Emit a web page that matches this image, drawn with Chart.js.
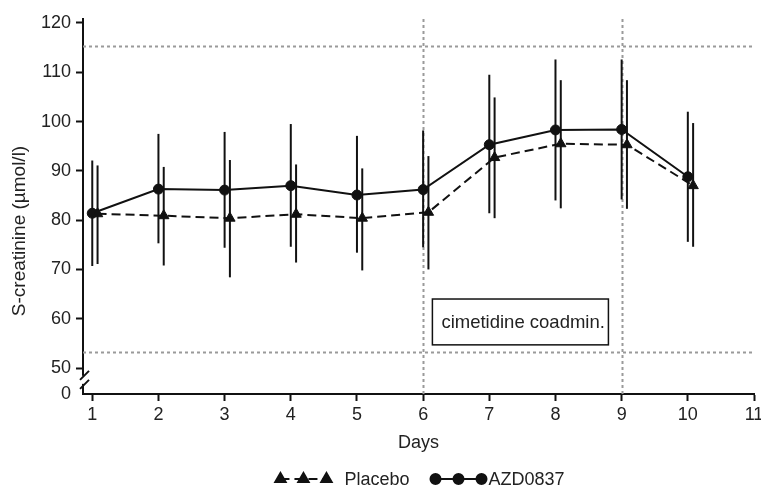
<!DOCTYPE html>
<html>
<head>
<meta charset="utf-8">
<script src="https://cdn.jsdelivr.net/npm/chart.js@4.4.1/dist/chart.umd.min.js"></script>
<style>
  html, body { margin: 0; padding: 0; background: #fff; }
</style>
</head>
<body>
<canvas id="chart" width="761" height="487"></canvas>
<script>
// Study days and S-creatinine readings (mean with range bars)
const days = [1, 2, 3, 4, 5, 6, 7, 8, 9, 10];

const azdMean = [81.4, 86.3, 86.1, 87.0, 85.1, 86.2, 95.3, 98.3, 98.4, 88.8];
const azdLow = [70.7, 75.3, 74.4, 74.6, 73.4, 74.5, 81.4, 84.0, 84.2, 75.6];
const azdHigh = [92.1, 97.5, 97.9, 99.5, 97.1, 98.2, 109.5, 112.6, 112.6, 102.0];

const placeboMean = [81.3, 80.9, 80.4, 81.2, 80.4, 81.6, 92.7, 95.5, 95.3, 87.0];
const placeboLow = [71.1, 70.8, 68.4, 71.4, 69.8, 70.0, 80.4, 82.4, 82.3, 74.6];
const placeboHigh = [91.1, 90.8, 92.2, 91.3, 90.5, 93.0, 104.9, 108.4, 108.4, 99.7];

const dayTicks = [1, 2, 3, 4, 5, 6, 7, 8, 9, 10, 11];
const valueTicks = [50, 60, 70, 80, 90, 100, 110, 120];

// Reference range and cimetidine period
const normalRange = [53.2, 115.3];
const periodMarks = [6, 9];
const noteText = 'cimetidine coadmin.';

// The axis is broken below 50; the "0" label sits at this scale value
const AXIS_ZERO = 44.73;
const PLACEBO_SHIFT = 0.08;
const INK = '#111';
const GREY = '#9a9a9a';
const FONT = '"Liberation Sans", Arial, Helvetica, sans-serif';

const toPoints = (xs, ys, shift = 0) => xs.map((d, i) => ({ x: d + shift, y: ys[i] }));

// Vertical range bars behind the markers
const errorBars = {
    id: 'errorBars',
    beforeDatasetsDraw(chart) {
        const { ctx, scales: { y } } = chart;
        ctx.save();
        ctx.strokeStyle = INK;
        ctx.lineWidth = 2;
        chart.data.datasets.forEach((ds, di) => {
            const meta = chart.getDatasetMeta(di);
            meta.data.forEach((pt, i) => {
                ctx.beginPath();
                ctx.moveTo(pt.x, y.getPixelForValue(ds.errLow[i]));
                ctx.lineTo(pt.x, y.getPixelForValue(ds.errHigh[i]));
                ctx.stroke();
            });
        });
        ctx.restore();
    }
};

// Dotted reference lines and the annotation box
const refLines = {
    id: 'refLines',
    beforeDatasetsDraw(chart) {
        const { ctx, chartArea: a, scales: { x, y } } = chart;
        ctx.save();
        ctx.strokeStyle = GREY;
        ctx.lineWidth = 2;
        ctx.setLineDash([3, 3]);
        normalRange.forEach(v => {
            const py = Math.round(y.getPixelForValue(v)) + 0.5;
            ctx.beginPath();
            ctx.moveTo(a.left, py);
            ctx.lineTo(a.right, py);
            ctx.stroke();
        });
        periodMarks.forEach(d => {
            const px = Math.round(x.getPixelForValue(d)) + 0.5;
            ctx.beginPath();
            ctx.moveTo(px, a.top);
            ctx.lineTo(px, a.bottom);
            ctx.stroke();
        });
        ctx.setLineDash([]);

        // note box inside the cimetidine period
        const bx = x.getPixelForValue(6.14);
        const bw = x.getPixelForValue(8.8) - bx;
        const by = y.getPixelForValue(64.0);
        const bh = y.getPixelForValue(54.7) - by;
        ctx.fillStyle = '#fff';
        ctx.fillRect(bx, by, bw, bh);
        ctx.strokeStyle = INK;
        ctx.lineWidth = 1.5;
        ctx.strokeRect(bx, by, bw, bh);
        ctx.fillStyle = '#222';
        ctx.font = `18.5px ${FONT}`;
        ctx.textBaseline = 'middle';
        ctx.textAlign = 'left';
        ctx.fillText(noteText, bx + 9, by + bh / 2 + 1);
        ctx.restore();
    }
};

// Axis break, y title and the line-style legend
const decorations = {
    id: 'decorations',
    afterDraw(chart) {
        const { ctx, chartArea: a, scales: { y } } = chart;
        ctx.save();

        // break marks on the y axis
        const yb = y.getPixelForValue(47.6);
        ctx.fillStyle = '#fff';
        ctx.fillRect(a.left - 3, yb - 4, 6, 8);
        ctx.strokeStyle = INK;
        ctx.lineWidth = 2;
        [-4.5, 4.5].forEach(off => {
            ctx.beginPath();
            ctx.moveTo(a.left - 3, yb + off + 4.5);
            ctx.lineTo(a.left + 6, yb + off - 4.5);
            ctx.stroke();
        });

        // y axis title
        ctx.fillStyle = '#222';
        ctx.font = `19px ${FONT}`;
        ctx.textAlign = 'center';
        ctx.textBaseline = 'middle';
        ctx.translate(20, 231);
        ctx.rotate(-Math.PI / 2);
        ctx.fillText('S-creatinine (µmol/l)', 0, 0);
        ctx.restore();

        // legend: three markers joined by the series line
        ctx.save();
        const ly = 479;
        const entries = chart.data.datasets.map((ds, i) => ({
            ds,
            gap: i === 0 ? 18 : 7
        }));
        ctx.font = `18px ${FONT}`;
        const span = 46;
        const widths = entries.map(e => span + e.gap + ctx.measureText(e.ds.label).width);
        const total = widths.reduce((s, w) => s + w, 0) + 26;
        let lx = (a.left + a.right) / 2 + 4 - total / 2;
        entries.forEach((e, i) => {
            const ds = e.ds;
            ctx.strokeStyle = INK;
            ctx.lineWidth = 2;
            ctx.setLineDash(ds.borderDash || []);
            ctx.beginPath();
            ctx.moveTo(lx, ly);
            ctx.lineTo(lx + span, ly);
            ctx.stroke();
            ctx.setLineDash([]);
            for (let k = 0; k < 3; k++) {
                Chart.helpers.drawPoint(ctx, {
                    pointStyle: ds.pointStyle,
                    radius: ds.pointRadius,
                    borderWidth: 1
                }, lx + k * span / 2, ly);
                ctx.fillStyle = INK;
                ctx.fill();
            }
            ctx.fillStyle = '#222';
            ctx.textAlign = 'left';
            ctx.textBaseline = 'middle';
            ctx.fillText(ds.label, lx + span + e.gap, ly + 1);
            lx += widths[i] + 26;
        });
        ctx.restore();
    }
};

new Chart(document.getElementById('chart'), {
    type: 'line',
    data: {
        datasets: [
            {
                label: 'Placebo',
                data: toPoints(days, placeboMean, PLACEBO_SHIFT),
                errLow: placeboLow,
                errHigh: placeboHigh,
                borderColor: INK,
                backgroundColor: INK,
                borderWidth: 2,
                borderDash: [9, 5],
                pointStyle: 'triangle',
                pointRadius: 6,
                pointBorderWidth: 1,
                tension: 0
            },
            {
                label: 'AZD0837',
                data: toPoints(days, azdMean),
                errLow: azdLow,
                errHigh: azdHigh,
                borderColor: INK,
                backgroundColor: INK,
                borderWidth: 2,
                pointStyle: 'circle',
                pointRadius: 5,
                pointBorderWidth: 1,
                tension: 0
            }
        ]
    },
    options: {
        responsive: false,
        animation: false,
        layout: { padding: { top: 19, right: 6, left: 0, bottom: 0 } },
        plugins: {
            legend: { display: false },
            tooltip: { enabled: false }
        },
        scales: {
            x: {
                type: 'linear',
                min: 0.86,
                max: 11,
                afterBuildTicks: scale => {
                    scale.ticks = dayTicks.map(v => ({ value: v }));
                },
                afterFit: scale => {
                    scale.height = 93;
                    // let the last day label run to the canvas edge
                    scale.paddingRight = 0;
                },
                border: { color: INK, width: 2 },
                grid: {
                    drawOnChartArea: false,
                    tickLength: 7,
                    tickWidth: 2,
                    tickColor: INK
                },
                ticks: {
                    color: '#222',
                    font: { family: FONT, size: 18 },
                    padding: 3,
                    maxRotation: 0
                },
                title: {
                    display: true,
                    text: 'Days',
                    color: '#222',
                    font: { family: FONT, size: 18 },
                    padding: { top: 0, bottom: 33 }
                }
            },
            y: {
                type: 'linear',
                min: AXIS_ZERO,
                max: 120.81,
                afterBuildTicks: scale => {
                    scale.ticks = [AXIS_ZERO, ...valueTicks].map(v => ({ value: v }));
                },
                afterFit: scale => { scale.width = 83; },
                border: { color: INK, width: 2 },
                grid: {
                    drawOnChartArea: false,
                    tickLength: 7,
                    tickWidth: 2,
                    tickColor: c => (c.tick && c.tick.value < valueTicks[0] ? 'rgba(0,0,0,0)' : INK)
                },
                ticks: {
                    color: '#222',
                    font: { family: FONT, size: 18 },
                    padding: 5,
                    callback: v => (v < valueTicks[0] ? '0' : v)
                }
            }
        }
    },
    plugins: [refLines, errorBars, decorations]
});
</script>
</body>
</html>
